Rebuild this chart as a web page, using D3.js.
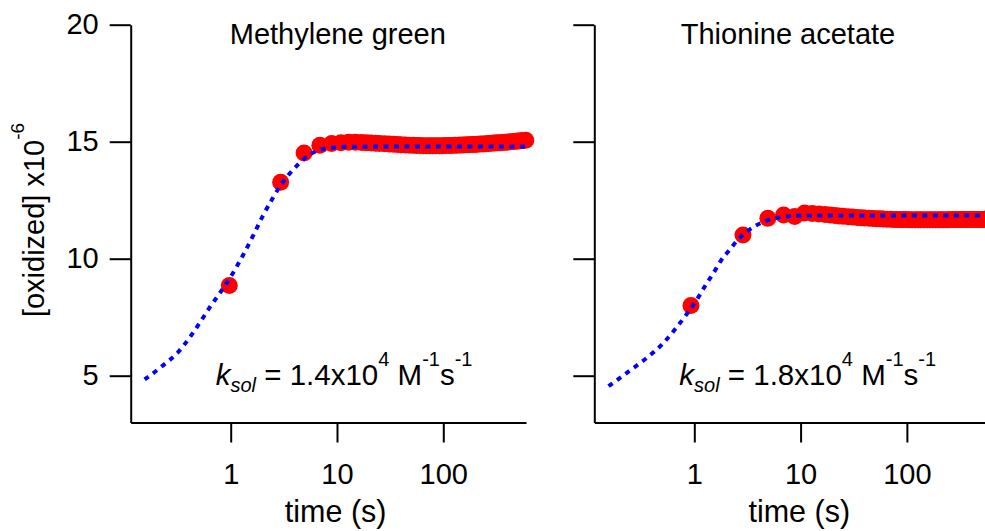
<!DOCTYPE html>
<html>
<head>
<meta charset="utf-8">
<script src="https://cdn.jsdelivr.net/npm/d3@7"></script>
<style>
  html, body { margin: 0; padding: 0; background: #fff; }
  svg { display: block; }
  text { font-family: "Liberation Sans", Arial, sans-serif; fill: #000; }
</style>
</head>
<body>
<svg id="chart" width="985" height="531"></svg>
<script>
// ---------------- data ----------------
const panelTitles = ["Methylene green", "Thionine acetate"];
const rateValues = ["1.4", "1.8"];
const xTicks = [1, 10, 100];
const yTicks = [5, 10, 15, 20];
const xDomain = [0.1146, 600];
const yDomain = [3, 20];

// Methylene green measured points (time s, [oxidized] x1e-6)
const mgTime = [
  0.97, 2.95, 4.9, 6.9, 8.9, 10.9, 12.9, 14.9, 17, 19,
  21, 23, 25, 28, 31, 34, 37, 40, 44, 48,
  52, 56, 60, 65, 70, 75, 80, 86, 92, 98,
  105, 112, 120, 128, 136, 145, 155, 165, 175, 186,
  198, 210, 223, 237, 252, 268, 285, 303, 322, 342,
  363, 385, 408, 432, 457, 483, 510, 538, 567, 597
];
const mgValue = [
  8.85, 13.27, 14.52, 14.85, 14.92, 14.96, 14.98, 14.98, 14.97, 14.95,
  14.94, 14.93, 14.92, 14.91, 14.90, 14.89, 14.88, 14.87, 14.86, 14.85,
  14.85, 14.84, 14.84, 14.83, 14.83, 14.83, 14.83, 14.83, 14.83, 14.83,
  14.84, 14.84, 14.84, 14.85, 14.85, 14.86, 14.86, 14.87, 14.87, 14.88,
  14.88, 14.89, 14.90, 14.90, 14.91, 14.92, 14.93, 14.94, 14.95, 14.96,
  14.97, 14.98, 14.99, 15.00, 15.01, 15.02, 15.03, 15.04, 15.05, 15.06
];
// Methylene green fit curve
const mgFitTime = [0.155, 0.228, 0.319, 0.414, 0.518, 0.648, 0.811, 0.976, 1.27, 1.59, 1.99, 2.48, 2.99, 3.89, 5.05, 6.55, 8.84, 12, 20, 50, 150, 600];
const mgFitValue = [4.84, 5.42, 6.0, 6.65, 7.3, 7.98, 8.6, 9.15, 10.05, 10.9, 11.8, 12.58, 13.18, 13.82, 14.32, 14.62, 14.74, 14.78, 14.79, 14.79, 14.79, 14.79];

// Thionine acetate measured points
const taTime = [
  0.93, 2.87, 4.92, 6.92, 8.8, 10.9, 12.9, 14.9, 17, 19,
  21, 23, 25, 28, 31, 34, 37, 40, 44, 48,
  52, 56, 60, 65, 70, 75, 80, 86, 92, 98,
  105, 112, 120, 128, 136, 145, 155, 165, 175, 186,
  198, 210, 223, 237, 252, 268, 285, 303, 322, 342,
  363, 385, 408, 432, 457, 483, 510, 538, 567, 597,
  628, 660, 694, 730, 767, 806, 847, 890, 935, 982
];
const taValue = [
  8.00, 11.01, 11.73, 11.87, 11.80, 11.95, 11.93, 11.91, 11.89, 11.87,
  11.85, 11.83, 11.81, 11.79, 11.78, 11.76, 11.75, 11.74, 11.73, 11.72,
  11.71, 11.71, 11.70, 11.69, 11.69, 11.68, 11.68, 11.67, 11.67, 11.67,
  11.66, 11.66, 11.66, 11.66, 11.66, 11.66, 11.66, 11.66, 11.66, 11.66,
  11.66, 11.66, 11.66, 11.66, 11.66, 11.67, 11.67, 11.67, 11.67, 11.67,
  11.67, 11.68, 11.68, 11.68, 11.68, 11.68, 11.68, 11.69, 11.69, 11.69,
  11.69, 11.69, 11.70, 11.70, 11.70, 11.70, 11.70, 11.70, 11.70, 11.70
];
// Thionine acetate fit curve
const taFitTime = [0.156, 0.244, 0.355, 0.5, 0.65, 0.87, 1.09, 1.31, 1.52, 1.77, 2.13, 2.56, 3.21, 4.34, 5.84, 8.18, 12, 30, 100, 300, 1000];
const taFitValue = [4.55, 5.2, 5.75, 6.35, 6.95, 7.7, 8.35, 8.95, 9.4, 9.9, 10.36, 10.8, 11.2, 11.55, 11.74, 11.82, 11.85, 11.85, 11.85, 11.85, 11.85];

// ---------------- layout ----------------
const svg = d3.select("#chart");
const FONT = 29;
const panelLeft = [130.7, 594.3];
const plotW = 395.3;
const yTop = 24.7, yBottom = 422.5;

const panels = [
  { title: panelTitles[0], rate: rateValues[0], pts: d3.zip(mgTime, mgValue), fit: d3.zip(mgFitTime, mgFitValue), titleX: 337.8, showLabels: true },
  { title: panelTitles[1], rate: rateValues[1], pts: d3.zip(taTime, taValue), fit: d3.zip(taFitTime, taFitValue), titleX: 788, showLabels: false }
];

const y = d3.scaleLinear().domain(yDomain).range([yBottom, yTop]);

panels.forEach((p, i) => {
  const left = panelLeft[i];
  const x = d3.scaleLog().domain(xDomain).range([left, left + plotW]);

  const g = svg.append("g");

  // points
  g.append("g").selectAll("circle").data(p.pts).join("circle")
    .attr("cx", d => x(d[0])).attr("cy", d => y(d[1]))
    .attr("r", 8.5).attr("fill", "#ff0000");

  // fit line
  const line = d3.line().x(d => x(d[0])).y(d => y(d[1])).curve(d3.curveMonotoneX);
  g.append("path").datum(p.fit)
    .attr("d", line).attr("fill", "none")
    .attr("stroke", "#0000ff").attr("stroke-width", 4)
    .attr("stroke-dasharray", "5,5.5");

  // y axis
  const ya = d3.axisLeft(y).tickValues(yTicks).tickSize(21).tickPadding(11).tickSizeOuter(0);
  if (!p.showLabels) ya.tickFormat("");
  const gy = svg.append("g").attr("transform", `translate(${left},0)`).call(ya);
  // x axis
  const xa = d3.axisBottom(x).tickValues(xTicks).tickFormat(d3.format("d")).tickSize(20).tickPadding(21).tickSizeOuter(0);
  const gx = svg.append("g").attr("transform", `translate(0,${y(yDomain[0])})`).call(xa);

  [gy, gx].forEach(a => {
    a.selectAll("path, line").attr("stroke", "#000").attr("stroke-width", 2);
    a.selectAll("text").attr("font-size", FONT).attr("font-family", '"Liberation Sans", Arial, sans-serif').attr("fill", "#000");
  });

  // title
  svg.append("text").attr("x", p.titleX).attr("y", 43.6)
    .attr("text-anchor", "middle").attr("font-size", FONT).text(p.title);

  // x axis title
  svg.append("text").attr("x", left + 205).attr("y", 522)
    .attr("text-anchor", "middle").attr("font-size", 30.5).text("time (s)");

  // annotation
  const ann = svg.append("text").attr("x", left + 85).attr("y", 384.5).attr("font-size", 29.5);
  ann.append("tspan").attr("font-style", "italic").text("k");
  ann.append("tspan").attr("font-style", "italic").attr("font-size", 20).attr("dy", 7).text("sol");
  ann.append("tspan").attr("dy", -7).text(" = " + p.rate + "x10");
  ann.append("tspan").attr("font-size", 20).attr("dy", -19).text("4");
  ann.append("tspan").attr("dy", 19).text(" M");
  ann.append("tspan").attr("font-size", 20).attr("dy", -19).text("-1");
  ann.append("tspan").attr("dy", 19).text("s");
  ann.append("tspan").attr("font-size", 20).attr("dy", -19).text("-1");
});

// y axis title
const yt = svg.append("text").attr("transform", "translate(44,220) rotate(-90)")
  .attr("text-anchor", "middle").attr("font-size", FONT);
yt.append("tspan").text("[oxidized] x10");
yt.append("tspan").attr("font-size", 19).attr("dy", -20).text("-6");
</script>
</body>
</html>
